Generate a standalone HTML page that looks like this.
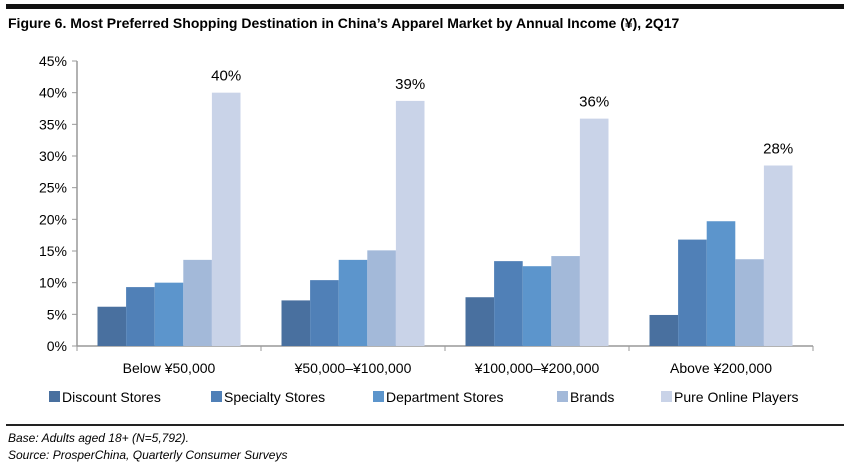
<!DOCTYPE html>
<html><head><meta charset="utf-8"><style>
body{margin:0;background:#fff;font-family:"Liberation Sans",Calibri,sans-serif;}
svg text{font-family:"Liberation Sans",sans-serif;}
</style></head><body>
<svg width="850" height="469" xmlns="http://www.w3.org/2000/svg">
<rect x="6" y="4" width="838" height="5" fill="#111"/>
<text x="8" y="28" font-size="14" font-weight="bold" fill="#000">Figure 6. Most Preferred Shopping Destination in China’s Apparel Market by Annual Income (¥), 2Q17</text>
<g id="axes"></g><g id="bars"></g><g id="legend"></g>
<rect x="6" y="424" width="838" height="2" fill="#222"/>
<text x="8" y="442" font-size="12" font-style="italic">Base: Adults aged 18+ (N=5,792).</text>
<text x="8" y="459" font-size="12" font-style="italic">Source: ProsperChina, Quarterly Consumer Surveys</text>
</svg>
<script>
const categories=["Below ¥50,000","¥50,000–¥100,000","¥100,000–¥200,000","Above ¥200,000"];
const seriesNames=["Discount Stores","Specialty Stores","Department Stores","Brands","Pure Online Players"];
const discount=[6.2,7.2,7.7,4.9];
const specialty=[9.3,10.4,13.4,16.8];
const department=[10.0,13.6,12.6,19.7];
const brands=[13.6,15.1,14.2,13.7];
const online=[40,38.7,35.9,28.5];
const onlineLabels=["40%","39%","36%","28%"];
const yTicks=[0,5,10,15,20,25,30,35,40,45];
const colors=["#49709f","#5080b7","#5c95cc","#a3b9d9","#c9d3e8"];
const series=[discount,specialty,department,brands,online];
const NS="http://www.w3.org/2000/svg";
const x0=77,x1=813,y0=346,yTop=61,ymax=45;
const y=v=>y0-(v/ymax)*(y0-yTop);
const gw=(x1-x0)/categories.length,bw=28.6;
function mk(t,a,p){const e=document.createElementNS(NS,t);for(const k in a)e.setAttribute(k,a[k]);p.appendChild(e);return e;}
const ax=document.getElementById('axes');
let l=mk('line',{x1:x0,y1:y(ymax),x2:x0,y2:y0,stroke:'#999','stroke-width':1.5},ax);


l=mk('line',{x1:x0,y1:y0,x2:x1,y2:y0,stroke:'#999','stroke-width':1.5},ax);


yTicks.forEach(v=>{
 const tk=mk('line',{x1:x0-5,y1:y(v),x2:x0,y2:y(v),stroke:'#999'},ax);
 
 
 const t=mk('text',{x:x0-10,y:y(v)+5,'text-anchor':'end','font-size':14},ax);t.textContent=v+'%';
 
 
});
for(let i=0;i<=categories.length;i++){const tk=mk('line',{x1:x0+i*gw,y1:y0,x2:x0+i*gw,y2:y0+5,stroke:'#999'},ax);
 
 }
const bg=document.getElementById('bars');
categories.forEach((c,i)=>{
 const gx=x0+i*gw+(gw-5*bw)/2;
 series.forEach((s,j)=>{
  const r=mk('rect',{x:gx+j*bw,y:y(s[i]),width:bw,height:y0-y(s[i]),fill:colors[j]},bg);
  
  
 });
 const t=mk('text',{x:gx+4.5*bw,y:y(online[i])-12,'text-anchor':'middle','font-size':15},bg);t.textContent=onlineLabels[i];
 
 
 const cl=mk('text',{x:x0+i*gw+gw/2,y:y0+27,'text-anchor':'middle','font-size':14},bg);cl.textContent=c;
 
 
});
const lg=document.getElementById('legend');
const legendX=[49,211,373,557,661];
seriesNames.forEach((n,j)=>{
 const xx=legendX[j];
 const r=mk('rect',{x:xx,y:391,width:11,height:11,fill:colors[j]},lg);
 
 
 const t=mk('text',{x:xx+13,y:402,'font-size':14},lg);t.textContent=n;
 
 
});
</script>
</body></html>
